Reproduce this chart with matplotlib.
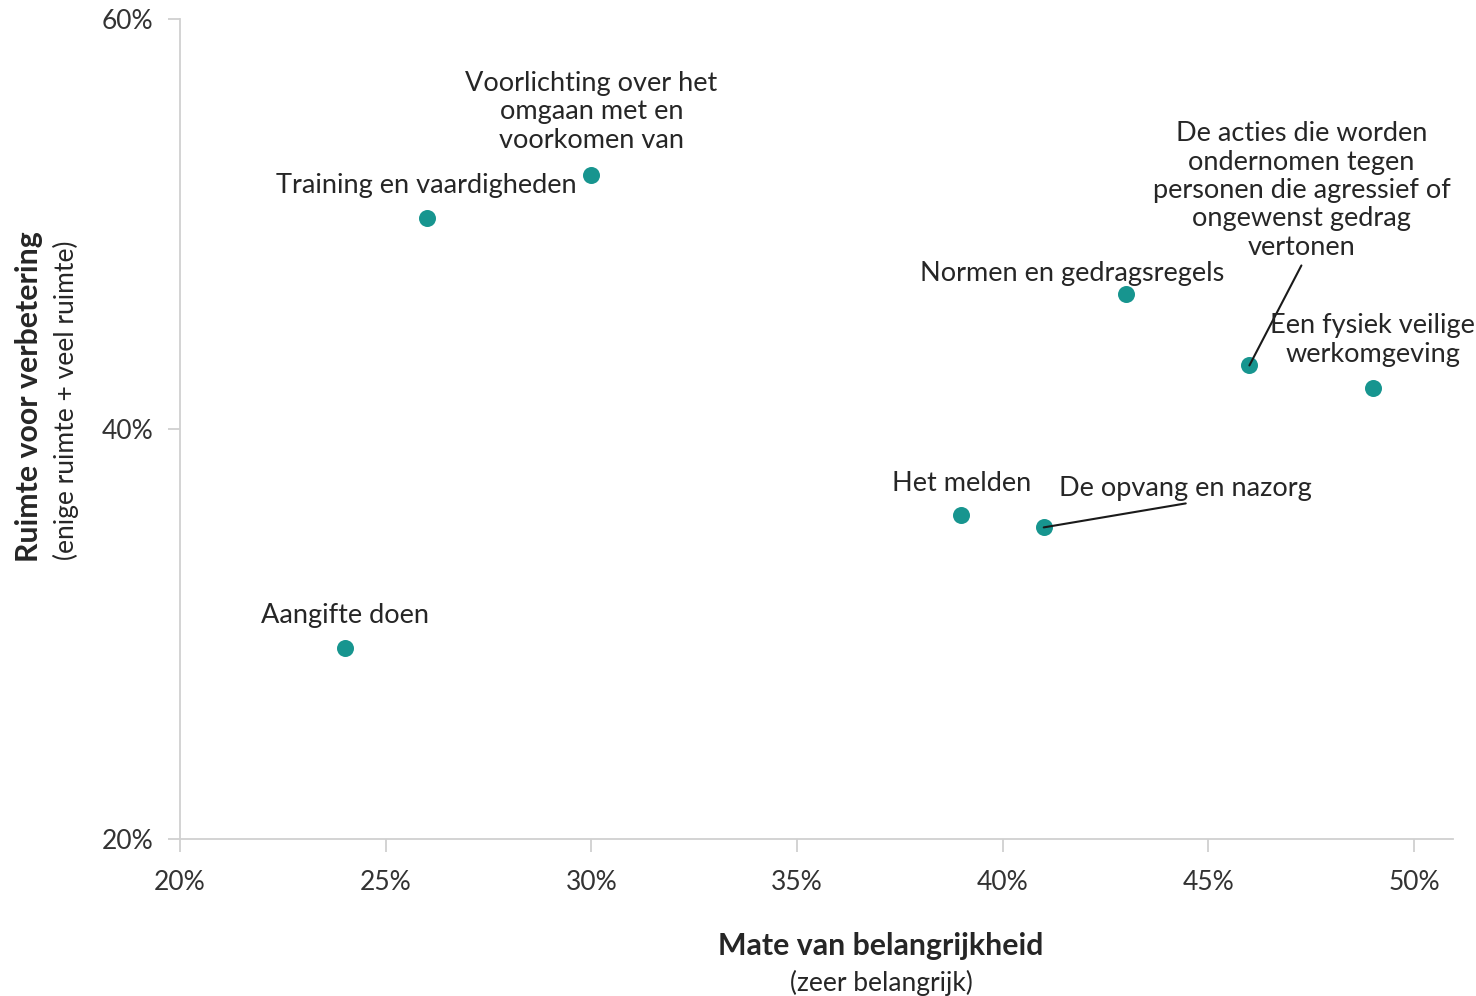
import matplotlib
matplotlib.use("Agg")
import matplotlib.pyplot as plt
from matplotlib.ticker import FuncFormatter, MultipleLocator

plt.rcParams['font.family'] = ['Lato', 'DejaVu Sans']

# data: % zeer belangrijk (x) vs % ruimte voor verbetering (y)
labels = [
    "Aangifte doen",
    "Training en vaardigheden",
    "Voorlichting over het\nomgaan met en\nvoorkomen van",
    "Het melden",
    "De opvang en nazorg",
    "Normen en gedragsregels",
    "De acties die worden\nondernomen tegen\npersonen die agressief of\nongewenst gedrag\nvertonen",
    "Een fysiek veilige\nwerkomgeving",
]
belangrijk = [24, 26, 30, 39, 41, 43, 46, 49]
verbetering = [29.3, 50.3, 52.4, 35.8, 35.2, 46.6, 43.1, 42.0]

# label offsets in pixels (text centre), and leader line end (or None)
offsets = [(0, 33), (0, 32), (0, 63), (0, 32), (142, 39), (-54, 20), (52, 175), (0, 48)]
leaders = [None, None, None, None, (142, 24), None, (52, 100), None]

teal = '#17958f'
txt = '#262626'

fig = plt.figure(figsize=(14.76, 9.96), dpi=100)
ax = fig.add_axes([180 / 1476, 1 - 839 / 996, (1453 - 180) / 1476, (839 - 19) / 996])

ax.scatter(belangrijk, verbetering, s=150, color=teal, zorder=3, linewidths=0)

for lab, x, y, off, lead in zip(labels, belangrijk, verbetering, offsets, leaders):
    ax.annotate(lab, (x, y), xytext=off, textcoords='offset pixels',
                ha='center', va='center', fontsize=19.5, color=txt,
                linespacing=1.17)
    if lead is not None:
        ax.annotate('', (x, y), xytext=lead, textcoords='offset pixels',
                    arrowprops=dict(arrowstyle='-', color='#1a1a1a', lw=1.5,
                                    shrinkA=0, shrinkB=0))

ax.set_xlim(20, 50.95)
ax.set_ylim(20, 60)
ax.xaxis.set_major_locator(MultipleLocator(5))
ax.yaxis.set_major_locator(MultipleLocator(20))
pct = FuncFormatter(lambda v, p: f"{v:.0f}%")
ax.xaxis.set_major_formatter(pct)
ax.yaxis.set_major_formatter(pct)

for s in ['top', 'right']:
    ax.spines[s].set_visible(False)
for s in ['left', 'bottom']:
    ax.spines[s].set_color('#d0d0d0')
    ax.spines[s].set_linewidth(1.3)
ax.tick_params(axis='both', colors='#d0d0d0', width=1.3, length=9,
               labelcolor='#333333', labelsize=19)
ax.tick_params(axis='x', pad=13)
ax.tick_params(axis='y', pad=10)

fig.text(881 / 1476, 1 - 946 / 996, "Mate van belangrijkheid", ha='center', va='center',
         fontsize=21.8, fontweight='bold', color=txt)
fig.text(881 / 1476, 1 - 983 / 996, "(zeer belangrijk)", ha='center', va='center',
         fontsize=19, color=txt)
fig.text(29 / 1476, 1 - 397 / 996, "Ruimte voor verbetering", ha='center', va='center',
         rotation=90, fontsize=21.8, fontweight='bold', color=txt)
fig.text(66 / 1476, 1 - 400 / 996, "(enige ruimte + veel ruimte)", ha='center', va='center',
         rotation=90, fontsize=19, color=txt)

fig.savefig('out.png', dpi=100, facecolor='white')
